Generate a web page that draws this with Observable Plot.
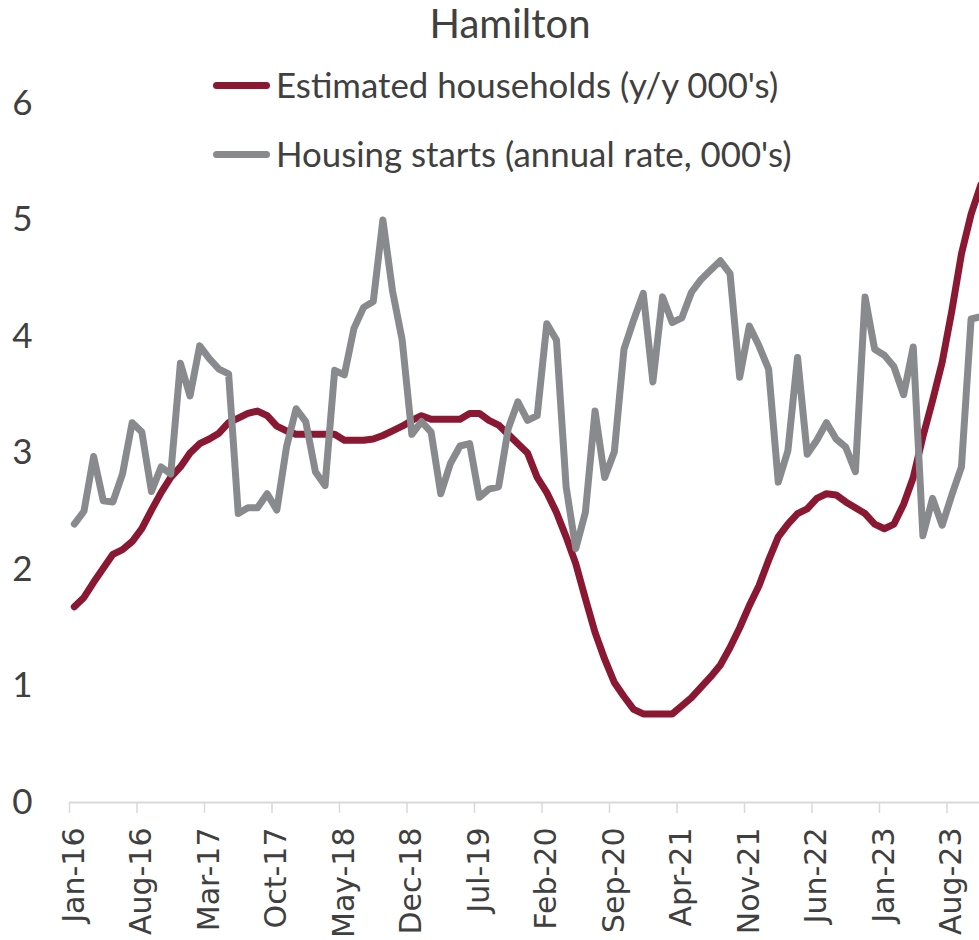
<!DOCTYPE html>
<html><head><meta charset="utf-8">
<script src="https://cdn.jsdelivr.net/npm/d3@7"></script>
<script src="https://cdn.jsdelivr.net/npm/@observablehq/plot@0.6"></script>
<style>
html,body{margin:0;padding:0;background:#fff;overflow:hidden;}
#wrap{position:relative;width:979px;height:940px;overflow:hidden;}
#title{position:absolute;left:0;top:0;width:979px;box-sizing:border-box;padding-left:41px;text-align:center;font-family:Lato;font-size:40px;line-height:46px;color:#404040;}
.leg{position:absolute;left:213px;display:flex;align-items:center;font-family:Lato;font-size:34.8px;line-height:42px;color:#404040;white-space:nowrap;}
.sw{width:57px;height:7px;border-radius:4px;margin-right:6px;}
</style></head><body>
<div id="wrap">
<div id="chart"></div>
<div id="title">Hamilton</div>
<div class="leg" style="top:64px"><div class="sw" style="background:#8B1833"></div><span>Estimated households (y/y 000's)</span></div>
<div class="leg" style="top:133px"><div class="sw" style="background:#898A8D"></div><span>Housing starts (annual rate, 000's)</span></div>
</div>
<script>
const tickLabels = ["Jan-16","Aug-16","Mar-17","Oct-17","May-18","Dec-18","Jul-19","Feb-20","Sep-20","Apr-21","Nov-21","Jun-22","Jan-23","Aug-23"];
const tickMonths = [0,7,14,21,28,35,42,49,56,63,70,77,84,91];
const yTicks = [0,1,2,3,4,5,6];

// Estimated households (y/y 000's), monthly from Jan-16
const households = [1.68,1.76,1.89,2.01,2.13,2.17,2.24,2.35,2.51,2.66,2.79,2.88,3.00,3.08,3.12,3.17,3.26,3.30,3.34,3.36,
3.32,3.23,3.19,3.16,3.16,3.16,3.16,3.16,3.11,3.11,3.11,3.12,3.15,3.19,3.23,3.28,3.32,3.29,3.29,3.29,
3.29,3.34,3.34,3.28,3.24,3.16,3.08,3.00,2.79,2.66,2.49,2.28,2.05,1.75,1.46,1.23,1.03,0.91,0.80,0.76,
0.76,0.76,0.76,0.83,0.90,0.99,1.08,1.18,1.33,1.50,1.69,1.86,2.08,2.28,2.39,2.48,2.52,2.61,2.65,2.64,
2.58,2.53,2.48,2.39,2.35,2.39,2.56,2.79,3.14,3.45,3.78,4.22,4.71,5.05,5.30];

// Housing starts (annual rate, 000's), monthly from Jan-16
const starts = [2.39,2.50,2.97,2.59,2.58,2.82,3.26,3.18,2.67,2.88,2.82,3.77,3.49,3.92,3.81,3.72,3.68,2.48,2.53,2.53,
2.65,2.51,3.05,3.38,3.27,2.84,2.72,3.71,3.67,4.07,4.25,4.30,5.00,4.39,3.97,3.16,3.27,3.18,2.65,2.91,
3.06,3.08,2.62,2.69,2.71,3.21,3.44,3.28,3.32,4.11,3.97,2.71,2.18,2.49,3.36,2.79,3.01,3.89,4.14,4.37,
3.61,4.34,4.12,4.16,4.38,4.49,4.57,4.65,4.54,3.65,4.09,3.92,3.72,2.75,3.02,3.82,2.99,3.11,3.26,3.12,
3.05,2.84,4.34,3.89,3.84,3.74,3.50,3.91,2.29,2.61,2.38,2.64,2.88,4.15,4.17];

const rowsH = households.map((v, i) => ({m: i, v}));
const rowsS = starts.map((v, i) => ({m: i, v}));

const chart = Plot.plot({
  width: 979, height: 940,
  marginTop: 103, marginBottom: 138, marginLeft: 69, marginRight: 0,
  x: {type: "linear", domain: [-0.5, 93.87], label: null},
  y: {domain: [0, 6], label: null},
  style: {background: "transparent", fontFamily: "Lato", overflow: "hidden"},
  marks: [
    Plot.ruleY([0], {stroke: "#d9d9d9", strokeWidth: 2}),
    Plot.axisX({ticks: tickMonths.map(m => m - 0.5), tickSize: 11, tickFormat: () => "", stroke: "#d9d9d9", strokeWidth: 1.5}),
    Plot.axisX({ticks: tickMonths, tickSize: 0, tickPadding: 25, tickRotate: -90,
      tickFormat: m => tickLabels[tickMonths.indexOf(m)],
      fontSize: 30, fontFamily: "DejaVu Sans", fill: "#404040"}),
    Plot.axisY({ticks: yTicks, tickSize: 0, tickPadding: 37, tickFormat: d => String(d),
      fontSize: 35, fontFamily: "Lato", fill: "#404040"}),
    Plot.line(rowsH, {x: "m", y: "v", stroke: "#8B1833", strokeWidth: 7, clip: true, strokeLinejoin: "round", strokeLinecap: "round"}),
    Plot.line(rowsS, {x: "m", y: "v", stroke: "#898A8D", strokeWidth: 7, clip: true, strokeLinejoin: "round", strokeLinecap: "round"})
  ]
});
document.getElementById("chart").appendChild(chart);
</script>
</body></html>
